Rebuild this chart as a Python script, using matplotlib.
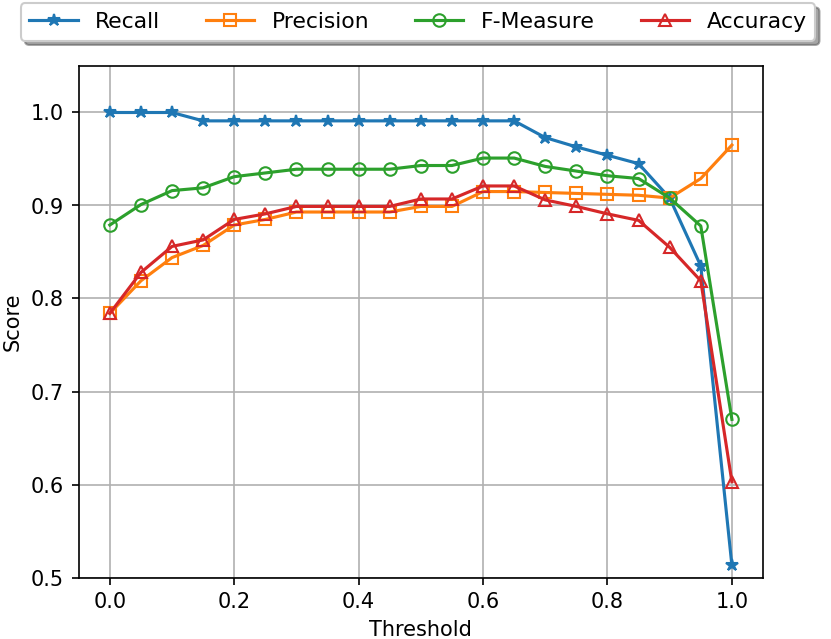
import matplotlib
matplotlib.use("Agg")
import matplotlib.pyplot as plt

thresholds = [0.0, 0.05, 0.1, 0.15, 0.2, 0.25, 0.3, 0.35, 0.4, 0.45, 0.5, 0.55,
              0.6, 0.65, 0.7, 0.75, 0.8, 0.85, 0.9, 0.95, 1.0]
recall = [1.0, 1.0, 1.0, 0.991, 0.991, 0.991, 0.991, 0.991, 0.991, 0.991, 0.991, 0.991,
          0.991, 0.991, 0.973, 0.963, 0.954, 0.945, 0.908, 0.835, 0.513]
precision = [0.784, 0.819, 0.844, 0.857, 0.879, 0.885, 0.893, 0.893, 0.893, 0.893, 0.899, 0.899,
             0.915, 0.915, 0.914, 0.913, 0.912, 0.911, 0.908, 0.929, 0.965]
fmeasure = [0.879, 0.901, 0.916, 0.919, 0.931, 0.935, 0.939, 0.939, 0.939, 0.939, 0.943, 0.943,
            0.951, 0.951, 0.942, 0.937, 0.932, 0.929, 0.908, 0.878, 0.670]
accuracy = [0.784, 0.828, 0.856, 0.863, 0.885, 0.891, 0.899, 0.899, 0.899, 0.899, 0.907, 0.907,
            0.921, 0.921, 0.906, 0.899, 0.891, 0.884, 0.855, 0.819, 0.603]

fig = plt.figure(figsize=(831/150, 639/150), dpi=150)
ax = fig.add_axes([78.7/831, 1-577.5/639, (763-78.7)/831, (577.5-66)/639])

ax.plot(thresholds, recall, marker='*', color='#1f77b4', label='Recall')
ax.plot(thresholds, precision, marker='s', fillstyle='none', color='#ff7f0e', label='Precision')
ax.plot(thresholds, fmeasure, marker='o', fillstyle='none', color='#2ca02c', label='F-Measure')
ax.plot(thresholds, accuracy, marker='^', fillstyle='none', color='#d62728', label='Accuracy')

ax.set_xlim(-0.05, 1.05)
ax.set_ylim(0.5, 1.05)
ax.set_yticks([0.5, 0.6, 0.7, 0.8, 0.9, 1.0])
ax.set_xlabel('Threshold')
ax.set_ylabel('Score')
ax.grid(True)

fig.legend(loc='center', bbox_to_anchor=(418/831, 1-22/639), ncol=4, shadow=True,
           fontsize=10.5, columnspacing=2.1, handlelength=2.2, handletextpad=0.8)

fig.savefig('out.png', dpi=150)
